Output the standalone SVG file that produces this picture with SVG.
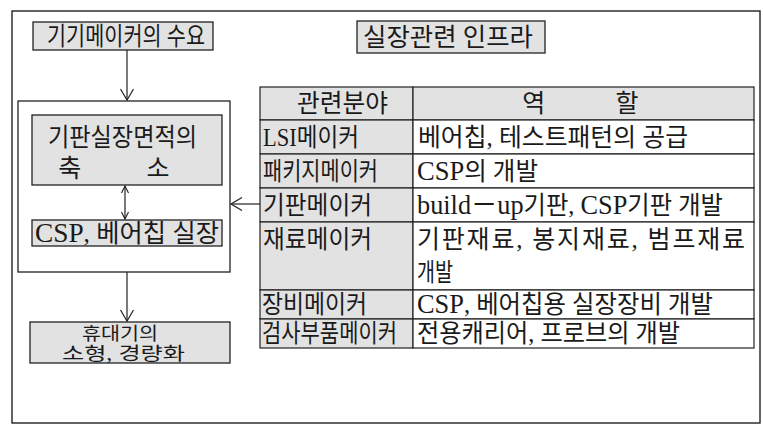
<svg xmlns="http://www.w3.org/2000/svg" width="763" height="426" viewBox="0 0 763 426">
<defs>
<style>
.frame{fill:none;stroke:#222;stroke-width:1.4}
.box{fill:#e2e2e2;stroke:#222;stroke-width:1.3}
.cont{fill:#fff;stroke:#222;stroke-width:1.3}
.cellg{fill:#e2e2e2;stroke:#222;stroke-width:1.2}
.cellw{fill:#fff;stroke:#222;stroke-width:1.2}
.t{font-family:"Liberation Serif","Noto Sans CJK KR",serif;font-size:25px;fill:#1a1a1a}
.s{font-size:18px}
.lat{font-size:27px}
.lat2{font-size:25px}
.conn{fill:none;stroke:#222;stroke-width:1.2}
</style>
<marker id="arr" markerUnits="userSpaceOnUse" markerWidth="14" markerHeight="16" viewBox="0 0 14 16" refX="12" refY="8" orient="auto">
<path d="M1,1.5 L12,8 L1,14.5" fill="none" stroke="#222" stroke-width="1.2"/>
</marker>
<marker id="arrs" markerUnits="userSpaceOnUse" markerWidth="10" markerHeight="10" viewBox="0 0 10 10" refX="8" refY="5" orient="auto-start-reverse">
<path d="M1,1.5 L8,5 L1,8.5" fill="none" stroke="#222" stroke-width="1.1"/>
</marker>
</defs>
<rect width="763" height="426" fill="#fff"/>
<rect class="frame" x="12" y="11" width="748" height="412"/>

<g id="demand">
<rect class="box" x="33" y="22" width="180" height="28"/>
<text class="t" x="47" y="45" textLength="158" lengthAdjust="spacingAndGlyphs">기기메이커의 수요</text>
</g>

<g id="infra-title">
<rect class="box" x="357" y="21" width="188" height="32"/>
<text class="t" x="363" y="46" textLength="170" lengthAdjust="spacingAndGlyphs">실장관련 인프라</text>
</g>

<g id="mounting-container">
<rect class="cont" x="18" y="101" width="212" height="171"/>
</g>

<g id="area-reduction">
<rect class="box" x="32" y="115" width="190" height="70"/>
<text class="t" x="48" y="146" textLength="149" lengthAdjust="spacingAndGlyphs">기판실장면적의</text>
<text class="t" y="177" text-anchor="middle"><tspan x="73">축</tspan> <tspan x="158">소</tspan></text>
</g>

<g id="csp-mounting">
<rect class="box" x="32" y="220" width="190" height="26"/>
<text class="t" x="35" y="242" textLength="184" lengthAdjust="spacingAndGlyphs"><tspan class="lat">CSP</tspan>, 베어칩 실장</text>
</g>

<g id="portable">
<rect class="box" x="30" y="322" width="200" height="41"/>
<text class="t s" x="82" y="340" textLength="76" lengthAdjust="spacingAndGlyphs">휴대기의</text>
<text class="t s" x="62" y="360" textLength="123" lengthAdjust="spacingAndGlyphs">소형, 경량화</text>
</g>

<g id="infra-table">
<rect class="cellg" x="260" y="87" width="153" height="33"/>
<rect class="cellg" x="413" y="87" width="341" height="33"/>
<rect class="cellg" x="260" y="120" width="153" height="34"/>
<rect class="cellw" x="413" y="120" width="341" height="34"/>
<rect class="cellg" x="260" y="154" width="153" height="34"/>
<rect class="cellw" x="413" y="154" width="341" height="34"/>
<rect class="cellg" x="260" y="188" width="153" height="34"/>
<rect class="cellw" x="413" y="188" width="341" height="34"/>
<rect class="cellg" x="260" y="222" width="153" height="68"/>
<rect class="cellw" x="413" y="222" width="341" height="68"/>
<rect class="cellg" x="260" y="290" width="153" height="29"/>
<rect class="cellw" x="413" y="290" width="341" height="29"/>
<rect class="cellg" x="260" y="319" width="153" height="29"/>
<rect class="cellw" x="413" y="319" width="341" height="29"/>

<text class="t" x="297" y="112" textLength="91" lengthAdjust="spacingAndGlyphs">관련분야</text>
<text class="t" y="112" text-anchor="middle"><tspan x="537">역</tspan> <tspan x="627">할</tspan></text>

<text class="t" x="263" y="146" textLength="96" lengthAdjust="spacingAndGlyphs"><tspan class="lat2">LSI</tspan>메이커</text>
<text class="t" x="418" y="146" textLength="270" lengthAdjust="spacingAndGlyphs">베어칩, 테스트패턴의 공급</text>

<text class="t" x="263" y="180" textLength="115" lengthAdjust="spacingAndGlyphs">패키지메이커</text>
<text class="t" x="417" y="180" textLength="121" lengthAdjust="spacingAndGlyphs"><tspan class="lat">CSP</tspan>의 개발</text>

<text class="t" x="263" y="214" textLength="109" lengthAdjust="spacingAndGlyphs">기판메이커</text>
<text class="t" x="417" y="214" textLength="306" lengthAdjust="spacingAndGlyphs"><tspan class="lat">build－up</tspan>기판, <tspan class="lat">CSP</tspan>기판 개발</text>

<text class="t" x="263" y="248" textLength="109" lengthAdjust="spacingAndGlyphs">재료메이커</text>
<text class="t" x="417" y="248" textLength="328" lengthAdjust="spacing">기판재료, 봉지재료, 범프재료</text>
<text class="t" x="417" y="281" textLength="36" lengthAdjust="spacingAndGlyphs">개발</text>

<text class="t" x="262" y="313" textLength="105" lengthAdjust="spacingAndGlyphs">장비메이커</text>
<text class="t" x="417" y="313" textLength="296" lengthAdjust="spacingAndGlyphs"><tspan class="lat">CSP</tspan>, 베어칩용 실장장비 개발</text>

<text class="t" x="262" y="342" textLength="135" lengthAdjust="spacingAndGlyphs">검사부품메이커</text>
<text class="t" x="417" y="342" textLength="263" lengthAdjust="spacingAndGlyphs">전용캐리어, 프로브의 개발</text>
</g>

<g id="connectors">
<line class="conn" x1="127" y1="50" x2="127" y2="100" marker-end="url(#arr)"/>
<line class="conn" x1="125" y1="186" x2="125" y2="219" marker-start="url(#arrs)" marker-end="url(#arrs)"/>
<line class="conn" x1="127" y1="272" x2="127" y2="321" marker-end="url(#arr)"/>
<line class="conn" x1="260" y1="204" x2="231" y2="204" marker-end="url(#arr)"/>
</g>
</svg>
